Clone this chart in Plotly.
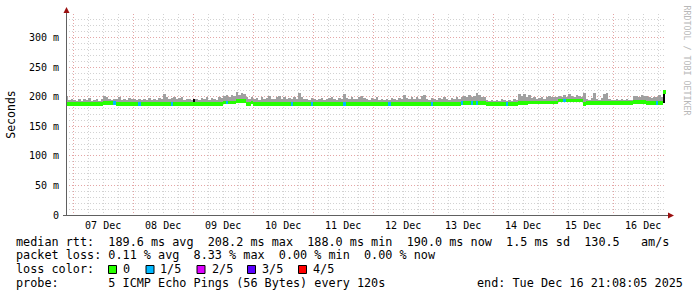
import plotly.graph_objects as go
import pandas as pd

# ---------------- data ----------------
slot_start = "2025-12-06 21:00"          # first hourly slot
view_start = "2025-12-06 21:08:05"
view_end = "2025-12-16 21:08:05"

# median rtt per hour (ms)
med_dec06 = [188, 188, 188]
med_dec07 = [188, 188, 188, 188, 188, 188, 188, 188, 188, 188, 188, 188,
             189, 189, 189, 189, 189, 188, 188, 188, 188, 188, 188, 188]
med_dec08 = [188, 188, 188, 188, 188, 188, 188, 188, 188, 188, 188, 188,
             188, 188, 188, 188, 188, 188, 188, 188, 188, 188, 188, 188]
med_dec09 = [188, 188, 188, 188, 188, 188, 188, 188, 188, 188, 188, 188,
             190.5, 190.5, 190.5, 190.5, 190.5, 192.5, 192.5, 192.5, 192.5, 188, 188, 190]
med_dec10 = [188, 188, 188, 188, 188, 188, 188, 188, 188, 188, 188, 188,
             188, 188, 188, 188, 188, 188, 188, 188, 188, 188, 188, 188]
med_dec11 = [188, 188, 188, 188, 188, 188, 188, 188, 188, 188, 188, 188,
             188, 188, 188, 188, 188, 188, 188, 188, 188, 188, 188, 188]
med_dec12 = [188, 188, 188, 188, 188, 188, 188, 188, 188, 188, 188, 188,
             188, 188, 188, 188, 188, 188, 188, 188, 188, 188, 188, 188]
med_dec13 = [188, 188, 188, 188, 188, 188, 188, 188, 188, 188, 188, 189,
             189, 189, 189, 189, 189, 189, 189, 189, 189, 187.5, 187.5, 187.5]
med_dec14 = [187.5, 187.5, 187.5, 187.5, 187.5, 187.5, 187.5, 187.5, 187.5, 187.5, 189.5, 189.5,
             189.5, 189.5, 190.5, 190.5, 190.5, 190.5, 190.5, 190.5, 190.5, 190.5, 190.5, 190.5]
med_dec15 = [190.5, 190.5, 193.5, 193.5, 193.5, 193.5, 193.5, 193.5, 193.5, 193.5, 193.5, 193.5,
             188, 189.5, 189.5, 189.5, 189.5, 189.5, 189.5, 189.5, 189.5, 189.5, 189.5, 189.5]
med_dec16 = [189.5, 189.5, 189.5, 189.5, 189.5, 189.5, 189.5, 189.5, 191.5, 191.5, 191.5, 191.5,
             191.5, 189.5, 189.5, 189.5, 189.5, 189.5, 189.5, 189.5, 208]

# smoke top (max ping) per hour (ms)
max_dec06 = [202, 194, 196]
max_dec07 = [195, 193, 197, 193, 196, 194, 198, 193, 195, 196, 193, 197,
             202, 200, 197, 195, 197, 196, 199, 195, 197, 194, 198, 196]
max_dec08 = [197, 194, 196, 195, 197, 194, 198, 195, 197, 194, 198, 196,
             205, 199, 196, 198, 199, 196, 198, 199, 195, 196, 197, 194]
max_dec09 = [197, 196, 195, 198, 196, 199, 195, 198, 196, 195, 199, 198,
             202, 203, 200, 203, 202, 208, 203, 207, 204, 199, 197, 200]
max_dec10 = [197, 198, 195, 199, 196, 198, 202, 197, 196, 199, 201, 197,
             200, 196, 198, 196, 199, 197, 206, 199, 197, 196, 195, 198]
max_dec11 = [196, 194, 197, 198, 195, 197, 198, 199, 196, 195, 198, 197,
             204, 198, 196, 199, 197, 196, 199, 202, 198, 196, 195, 198]
max_dec12 = [197, 199, 195, 197, 194, 197, 195, 198, 196, 195, 198, 196,
             203, 198, 196, 199, 197, 200, 197, 201, 203, 197, 195, 198]
max_dec13 = [197, 195, 198, 196, 199, 196, 195, 198, 196, 199, 197, 200,
             202, 200, 203, 200, 202, 206, 203, 200, 199, 194, 193, 195]
max_dec14 = [193, 195, 193, 196, 194, 193, 195, 193, 196, 194, 204, 201,
             204, 200, 203, 198, 199, 196, 198, 200, 197, 199, 201, 200]
max_dec15 = [199, 200, 202, 200, 203, 199, 204, 201, 200, 203, 202, 200,
             206, 196, 195, 198, 206, 196, 195, 198, 204, 206, 196, 195]
max_dec16 = [194, 197, 194, 196, 194, 197, 195, 194, 201, 202, 199, 203,
             201, 202, 199, 198, 199, 200, 203, 199, 211]

# lost pings (out of 5) per hour
loss_dec06 = [0, 0, 0]
loss_dec07 = [0, 0, 0, 0, 0, 0, 0, 0, 0, 0, 0, 0, 0, 0, 0, 0, 1, 0, 0, 0, 0, 0, 0, 0]
loss_dec08 = [0, 0, 1, 0, 0, 0, 0, 0, 0, 0, 0, 0, 0, 0, 0, 1, 0, 0, 0, 0, 0, 0, 0, 0]
loss_dec09 = [0, 0, 0, 0, 0, 0, 0, 0, 0, 0, 0, 0, 0, 1, 0, 0, 0, 0, 0, 0, 0, 0, 0, 0]
loss_dec10 = [0, 0, 0, 0, 0, 0, 0, 0, 0, 0, 0, 0, 0, 0, 0, 1, 0, 0, 0, 0, 0, 0, 0, 1]
loss_dec11 = [0, 0, 0, 0, 0, 0, 0, 0, 0, 0, 0, 0, 1, 0, 0, 0, 0, 0, 0, 0, 0, 0, 0, 0]
loss_dec12 = [0, 0, 0, 0, 0, 0, 1, 0, 0, 0, 0, 0, 0, 0, 0, 0, 0, 0, 0, 0, 0, 0, 0, 1]
loss_dec13 = [0, 0, 0, 0, 0, 0, 0, 0, 0, 0, 0, 1, 0, 0, 0, 1, 0, 1, 0, 0, 0, 0, 0, 0]
loss_dec14 = [0, 0, 0, 0, 0, 1, 0, 0, 0, 0, 0, 0, 0, 0, 0, 0, 0, 0, 0, 0, 0, 0, 0, 0]
loss_dec15 = [0, 0, 0, 0, 1, 0, 0, 0, 0, 0, 0, 0, 0, 0, 0, 0, 0, 0, 0, 0, 0, 0, 0, 0]
loss_dec16 = [0, 0, 0, 0, 0, 0, 0, 0, 0, 0, 0, 0, 0, 0, 0, 0, 0, 1, 0, 0, 0]

# dense (black) smoke samples: slot index, low, high (ms)
dark_slots = [51, 239]
dark_lo = [188, 190]
dark_hi = [197, 211]

median_ms = (med_dec06 + med_dec07 + med_dec08 + med_dec09 + med_dec10 + med_dec11
             + med_dec12 + med_dec13 + med_dec14 + med_dec15 + med_dec16)
max_ms = (max_dec06 + max_dec07 + max_dec08 + max_dec09 + max_dec10 + max_dec11
          + max_dec12 + max_dec13 + max_dec14 + max_dec15 + max_dec16)
loss = (loss_dec06 + loss_dec07 + loss_dec08 + loss_dec09 + loss_dec10 + loss_dec11
        + loss_dec12 + loss_dec13 + loss_dec14 + loss_dec15 + loss_dec16)

day_ticks = ["2025-12-07", "2025-12-08", "2025-12-09", "2025-12-10", "2025-12-11",
             "2025-12-12", "2025-12-13", "2025-12-14", "2025-12-15", "2025-12-16"]
label_ticks = [d + " 12:00" for d in day_ticks]
day_labels = ["07 Dec", "08 Dec", "09 Dec", "10 Dec", "11 Dec",
              "12 Dec", "13 Dec", "14 Dec", "15 Dec", "16 Dec"]
y_ticks = [0, 50, 100, 150, 200, 250, 300]
y_labels = ["0", "50 m", "100 m", "150 m", "200 m", "250 m", "300 m"]

loss_names = ["0", "1/5", "2/5", "3/5", "4/5"]
loss_colors = ["#26ff00", "#00b8ff", "#dd00ff", "#5a00ff", "#ff0000"]

rtt_stats = [189.6, 208.2, 188.0, 190.0]   # avg, max, min, now
rtt_sd = 1.5
rtt_am_s = 130.5
loss_stats = [0.11, 8.33, 0.00, 0.00]     # avg, max, min, now
probe_text = "5 ICMP Echo Pings (56 Bytes) every 120s"
end_text = "end: Tue Dec 16 21:08:05 2025"
watermark = "RRDTOOL / TOBI OETIKER"

# ---------------- layout constants ----------------
W, H = 697, 297
PL, PR, PT, PB = 66, 666, 14, 215   # plot area in pixels
MONO = "DejaVu Sans Mono"
SMOKE = "#a0a0a0"
BAND = 6.0
HOUR = 3600 * 1000


def px(x):
    return (x - PL) / (PR - PL)


def py(y):
    return (PB - y) / (PB - PT)


t0 = pd.Timestamp(slot_start)
centers = [t0 + pd.Timedelta(minutes=30 + 60 * i) for i in range(len(median_ms))]

fig = go.Figure()
fig.add_trace(go.Bar(
    x=centers, y=[mx - md for mx, md in zip(max_ms, median_ms)], base=median_ms,
    width=HOUR, marker=dict(color=SMOKE, line=dict(width=0)), hoverinfo="skip"))
fig.add_trace(go.Bar(
    x=[centers[s] for s in dark_slots], y=[h - l for h, l in zip(dark_hi, dark_lo)],
    base=dark_lo, width=HOUR * 0.8, marker=dict(color="#000000", line=dict(width=0)),
    hoverinfo="skip"))
fig.add_trace(go.Bar(
    x=centers, y=[BAND] * len(median_ms), base=[m - BAND / 2 for m in median_ms],
    width=HOUR, marker=dict(color=[loss_colors[l] for l in loss], line=dict(width=0)),
    hoverinfo="skip"))
fig.add_trace(go.Scatter(x=[view_start], y=[0], xaxis="x2", mode="markers",
                         marker=dict(opacity=0), hoverinfo="skip"))

GRID_MAJ = "rgb(228,165,165)"
GRID_MIN = "rgb(210,210,210)"
DASH = "1px,2px"
tickfont = dict(family=MONO, size=10, color="#000000")

fig.update_layout(
    width=W, height=H, autosize=False,
    margin=dict(l=PL, r=W - PR, t=PT, b=H - PB, pad=0),
    paper_bgcolor="white", plot_bgcolor="white",
    showlegend=False, barmode="overlay", bargap=0,
    xaxis=dict(type="date", range=[view_start, view_end], tickmode="array",
               tickvals=day_ticks, showticklabels=False, ticks="",
               showgrid=True, gridcolor=GRID_MAJ, griddash=DASH, gridwidth=1,
               minor=dict(tickmode="linear", tick0="2025-12-07", dtick=6 * HOUR,
                          showgrid=True, gridcolor=GRID_MIN, griddash=DASH, gridwidth=1),
               zeroline=False, showline=False, fixedrange=True),
    xaxis2=dict(type="date", range=[view_start, view_end], overlaying="x", anchor="y",
                side="bottom", tickmode="array", tickvals=label_ticks, ticktext=day_labels,
                showgrid=False, ticks="outside", ticklen=1, tickcolor="rgba(0,0,0,0)",
                tickfont=tickfont, zeroline=False, showline=False),
    yaxis=dict(range=[0, 340], tickmode="array", tickvals=y_ticks, ticktext=y_labels,
               showgrid=True, gridcolor=GRID_MAJ, griddash=DASH, gridwidth=1,
               minor=dict(tickmode="linear", tick0=0, dtick=10, showgrid=True,
                          gridcolor=GRID_MIN, griddash=DASH, gridwidth=1),
               ticks="outside", ticklen=4, tickcolor="rgba(0,0,0,0)",
               tickfont=tickfont, zeroline=False, showline=False,
               title=dict(text="Seconds", font=dict(family=MONO, size=11.5, color="#000000"),
                          standoff=10)),
)

AXIS = "#606060"
ARROW = "#9b1010"
shapes = [
    dict(type="line", xref="paper", yref="paper", x0=px(66.5), x1=px(66.5),
         y0=py(215), y1=py(11), line=dict(color=AXIS, width=1)),
    dict(type="line", xref="paper", yref="paper", x0=px(63), x1=px(669),
         y0=py(215.5), y1=py(215.5), line=dict(color=AXIS, width=1)),
    dict(type="path", xref="paper", yref="paper",
         path=f"M {px(66.5)} {py(7)} L {px(63.5)} {py(13)} L {px(69.5)} {py(13)} Z",
         fillcolor=ARROW, line=dict(width=0)),
    dict(type="path", xref="paper", yref="paper",
         path=f"M {px(674)} {py(215.5)} L {px(668)} {py(212.5)} L {px(668)} {py(218.5)} Z",
         fillcolor=ARROW, line=dict(width=0)),
]

box_x = [108.5, 146, 197, 247.5, 298.5]
name_x = [123.3, 160, 211.7, 261.7, 312.7]
for bx, col in zip(box_x, loss_colors):
    shapes.append(dict(type="rect", xref="paper", yref="paper",
                       x0=px(bx), x1=px(bx + 8), y0=py(273.5), y1=py(265.5),
                       fillcolor=col, line=dict(color="#000000", width=1)))
fig.update_layout(shapes=shapes)

NB = "\u00a0"


def legend_text(s):
    return s.replace(" ", NB)


line1 = ("median rtt:  %.1f ms avg  %.1f ms max  %.1f ms min  %.1f ms now  %.1f ms sd  %.1f   am/s"
         % (rtt_stats[0], rtt_stats[1], rtt_stats[2], rtt_stats[3], rtt_sd, rtt_am_s))
line2 = ("packet loss: %.2f %% avg  %.2f %% max  %.2f %% min  %.2f %% now"
         % (loss_stats[0], loss_stats[1], loss_stats[2], loss_stats[3]))
line4 = "probe:       " + probe_text

lfont = dict(family=MONO, size=11.8, color="#000000")
ann = []


def add_text(x, y, s, anchor="left"):
    ann.append(dict(xref="paper", yref="paper", x=px(x), y=py(y), text=legend_text(s),
                    showarrow=False, xanchor=anchor, yanchor="middle", font=lfont,
                    borderpad=0, borderwidth=0))


add_text(16, 241.7, line1)
add_text(16, 255.2, line2)
add_text(16, 269.3, "loss color:")
for nx, nm in zip(name_x, loss_names):
    add_text(nx, 269.3, nm)
add_text(16, 283.3, line4)
add_text(477, 283.3, end_text)

ann.append(dict(xref="paper", yref="paper", x=px(686.5), y=py(60), text=watermark,
                textangle=90, showarrow=False, xanchor="center", yanchor="middle",
                font=dict(family=MONO, size=8.3, color="#b8b8b8")))
fig.update_layout(annotations=ann)

fig.write_html("out.html")
